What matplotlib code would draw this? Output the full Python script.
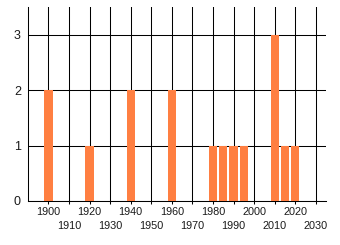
import matplotlib
matplotlib.use('Agg')
import matplotlib.pyplot as plt

# ── data ──────────────────────────────────────────────────────────────────────
years  = [1900, 1920, 1940, 1960, 1980, 1985, 1990, 1995, 2010, 2015, 2020]
counts = [2, 1, 2, 2, 1, 1, 1, 1, 3, 1, 1]
major_years = [1900, 1920, 1940, 1960, 1980, 2000, 2020]
minor_years = [1910, 1930, 1950, 1970, 1990, 2010, 2030]
y_ticks = [0, 1, 2, 3]

plt.rcParams['font.family'] = ['Liberation Sans', 'DejaVu Sans']

fig = plt.figure(figsize=(3.4, 2.45), dpi=100)
ax = fig.add_axes([0.082, 0.18, 0.877, 0.791])

ax.bar(years, counts, width=4, color='#ff7f41', zorder=3)

ax.set_xlim(1890, 2035)
ax.set_ylim(0, 3.5)

ax.set_xticks(major_years)
ax.set_xticklabels([str(y) for y in major_years])
ax.set_xticks(minor_years, minor=True)
ax.set_xticklabels([str(y) for y in minor_years], minor=True)
ax.set_yticks(y_ticks)

ax.tick_params(axis='x', which='both', length=1.8, width=0.75, color='black',
               labelsize=7.8, labelcolor='#1a1a1a')
ax.tick_params(axis='x', which='major', pad=2.5)
ax.tick_params(axis='x', which='minor', pad=13)
ax.tick_params(axis='y', length=0, pad=5, labelsize=9, labelcolor='#1a1a1a')

ax.grid(True, which='both', axis='x', color='black', linewidth=0.75)
ax.grid(True, axis='y', color='black', linewidth=0.75)
ax.set_axisbelow(True)

ax.spines['top'].set_visible(False)
ax.spines['right'].set_visible(False)
for s in ('left', 'bottom'):
    ax.spines[s].set_linewidth(0.75)
    ax.spines[s].set_color('black')

fig.savefig('out.png', dpi=100)
